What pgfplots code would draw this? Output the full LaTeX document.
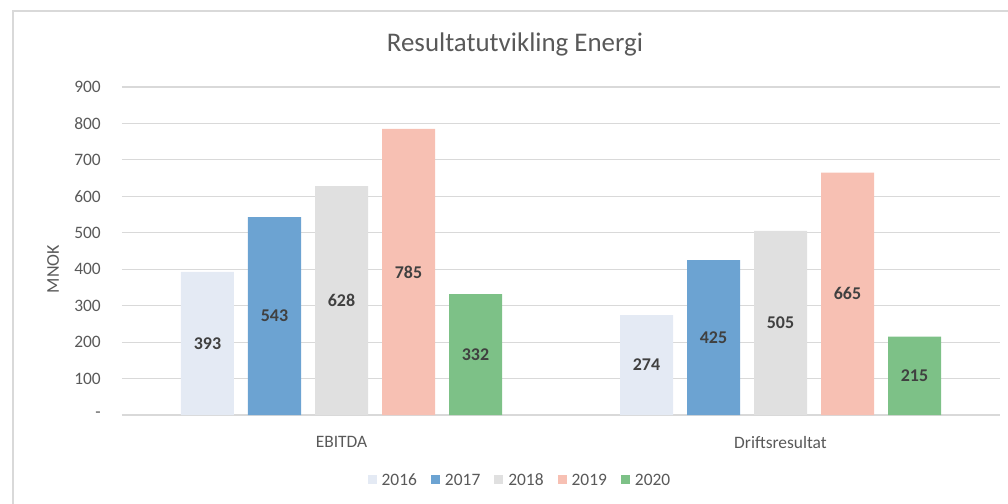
\documentclass[border=0pt]{standalone}
\usepackage{pgfplots}
\pgfplotsset{compat=1.18}
\usepackage{fontspec}
\setmainfont{Carlito}

\definecolor{c2016}{HTML}{E4EAF4}
\definecolor{c2017}{HTML}{6CA3D2}
\definecolor{c2018}{HTML}{E0E0E0}
\definecolor{c2019}{HTML}{F7C0B3}
\definecolor{c2020}{HTML}{7DC187}
\definecolor{gridgray}{HTML}{D9D9D9}
\definecolor{txtgray}{HTML}{595959}
\definecolor{lblgray}{HTML}{404040}

\begin{document}
\begin{tikzpicture}
% fixed page: 1008 x 504, axis box south west at (0,0)
\useasboundingbox (-122bp,-89bp) rectangle (886bp,415bp);
\draw[gridgray, line width=1.5bp] (-109bp,-89bp) -- (-109bp,404bp) -- (886bp,404bp);

\begin{axis}[
    at={(0,0)}, anchor=south west,
    scale only axis,
    width=878bp, height=328bp,
    ybar=14bp, bar width=53bp,
    xmin=-0.5, xmax=1.5,
    ymin=0, ymax=900,
    enlargelimits=false,
    axis line style={draw=none},
    major tick length=0pt,
    ymajorgrids, grid style={gridgray, line width=1.2bp},
    xtick={0,1}, xticklabels={EBITDA,Driftsresultat},
    ytick={0,100,...,900},
    yticklabels={-,100,200,300,400,500,600,700,800,900},
    ticklabel style={font=\fontsize{17.5}{20}\selectfont, text=txtgray},
    yticklabel style={inner sep=0pt, xshift=-21bp},
    xticklabel style={inner sep=0pt, yshift=-21bp},
    ylabel={MNOK},
    every axis y label/.style={at={(rel axis cs:0,0.445)}, xshift=-69bp,
        rotate=90, anchor=center, font=\fontsize{18}{20}\selectfont, text=txtgray},
    title={Resultatutvikling Energi},
    every axis title/.style={at={(rel axis cs:0.4476,1.131)}, anchor=center,
        font=\fontsize{27}{30}\selectfont, text=txtgray},
    /pgf/number format/assume math mode=true,
    visualization depends on=y \as \rawy,
    nodes near coords,
    every node near coord/.append style={anchor=center,
        shift={(axis direction cs:0,-\rawy/2)},
        font=\fontsize{18}{20}\selectfont\bfseries, text=lblgray},
    legend columns=5,
    legend style={at={(0.4533,-0.198)}, anchor=center, draw=none,
        font=\fontsize{17.5}{20}\selectfont, text=txtgray,
        nodes={text height=12bp, text depth=1bp},
        /tikz/every even column/.append style={column sep=12bp},
        /tikz/every odd column/.append style={column sep=3bp}},
    legend image code/.code={\fill[#1] (0bp,-4.5bp) rectangle (9bp,4.5bp);},
]
\addplot[fill=c2016, draw=none] coordinates {(0,393) (1,274)};
\addplot[fill=c2017, draw=none] coordinates {(0,543) (1,425)};
\addplot[fill=c2018, draw=none] coordinates {(0,628) (1,505)};
\addplot[fill=c2019, draw=none] coordinates {(0,785) (1,665)};
\addplot[fill=c2020, draw=none] coordinates {(0,332) (1,215)};
\legend{2016,2017,2018,2019,2020}
\end{axis}
\end{tikzpicture}
\end{document}
